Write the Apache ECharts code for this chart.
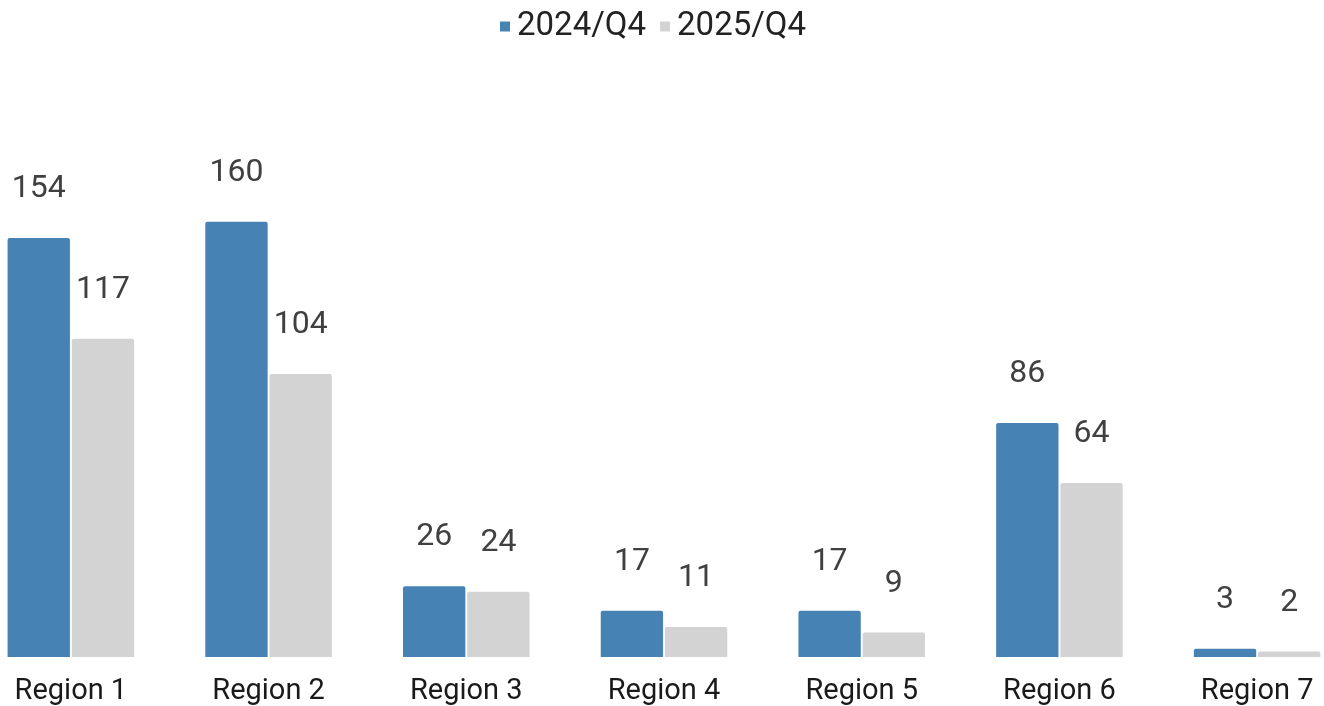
<!DOCTYPE html>
<html>
<head>
<meta charset="utf-8">
<style>
  * { margin: 0; padding: 0; }
  body { background: #ffffff; }
  #chart { width: 1324px; height: 706px; }
</style>
</head>
<body>
<div id="chart"></div>
<script src="https://cdn.jsdelivr.net/npm/echarts@6/dist/echarts.min.js"></script>
<script>
// 数据
const categories = ['Region 1', 'Region 2', 'Region 3', 'Region 4', 'Region 5', 'Region 6', 'Region 7'];
const q4_2024 = [154, 160, 26, 17, 17, 86, 3];
const q4_2025 = [117, 104, 24, 11, 9, 64, 2];
const seriesNames = ['2024/Q4', '2025/Q4'];

const FONT = 'Roboto, "Noto Sans", sans-serif';

const labelStyle = {
  show: true,
  position: 'top',
  distance: 33,
  fontFamily: FONT,
  fontSize: 32,
  color: '#404040',
};

const chart = echarts.init(document.getElementById('chart'));

const option = {
  backgroundColor: '#ffffff',
  animation: false,
  legend: {
    data: seriesNames,
    top: 5,
    left: 495,
    icon: 'rect',
    itemWidth: 10,
    itemHeight: 10,
    itemGap: 14,
    textStyle: {
      fontFamily: FONT,
      fontSize: 33,
      color: '#222222',
      padding: [0, 0, 0, 2],
    },
  },
  grid: {
    left: -28,
    right: -32,
    top: 113,
    bottom: 49,
    outerBoundsMode: 'none',
    containLabel: false,
  },
  xAxis: {
    type: 'category',
    data: categories,
    axisLine: { show: false },
    axisTick: { show: false },
    axisLabel: {
      fontFamily: FONT,
      fontSize: 29,
      color: '#1a1a1a',
      margin: 20,
    },
  },
  yAxis: {
    type: 'value',
    min: 0,
    max: 200,
    show: false,
    splitLine: { show: false },
  },
  series: [
    {
      name: seriesNames[0],
      type: 'bar',
      data: q4_2024,
      barGap: '3%',
      barCategoryGap: '36%',
      itemStyle: {
        color: '#4682B4',
        borderRadius: [2, 2, 0, 0],
      },
      label: labelStyle,
    },
    {
      name: seriesNames[1],
      type: 'bar',
      data: q4_2025,
      barGap: '3%',
      barCategoryGap: '36%',
      itemStyle: {
        color: '#D3D3D3',
        borderRadius: [2, 2, 0, 0],
      },
      label: labelStyle,
    },
  ],
};

chart.setOption(option);
</script>
</body>
</html>
